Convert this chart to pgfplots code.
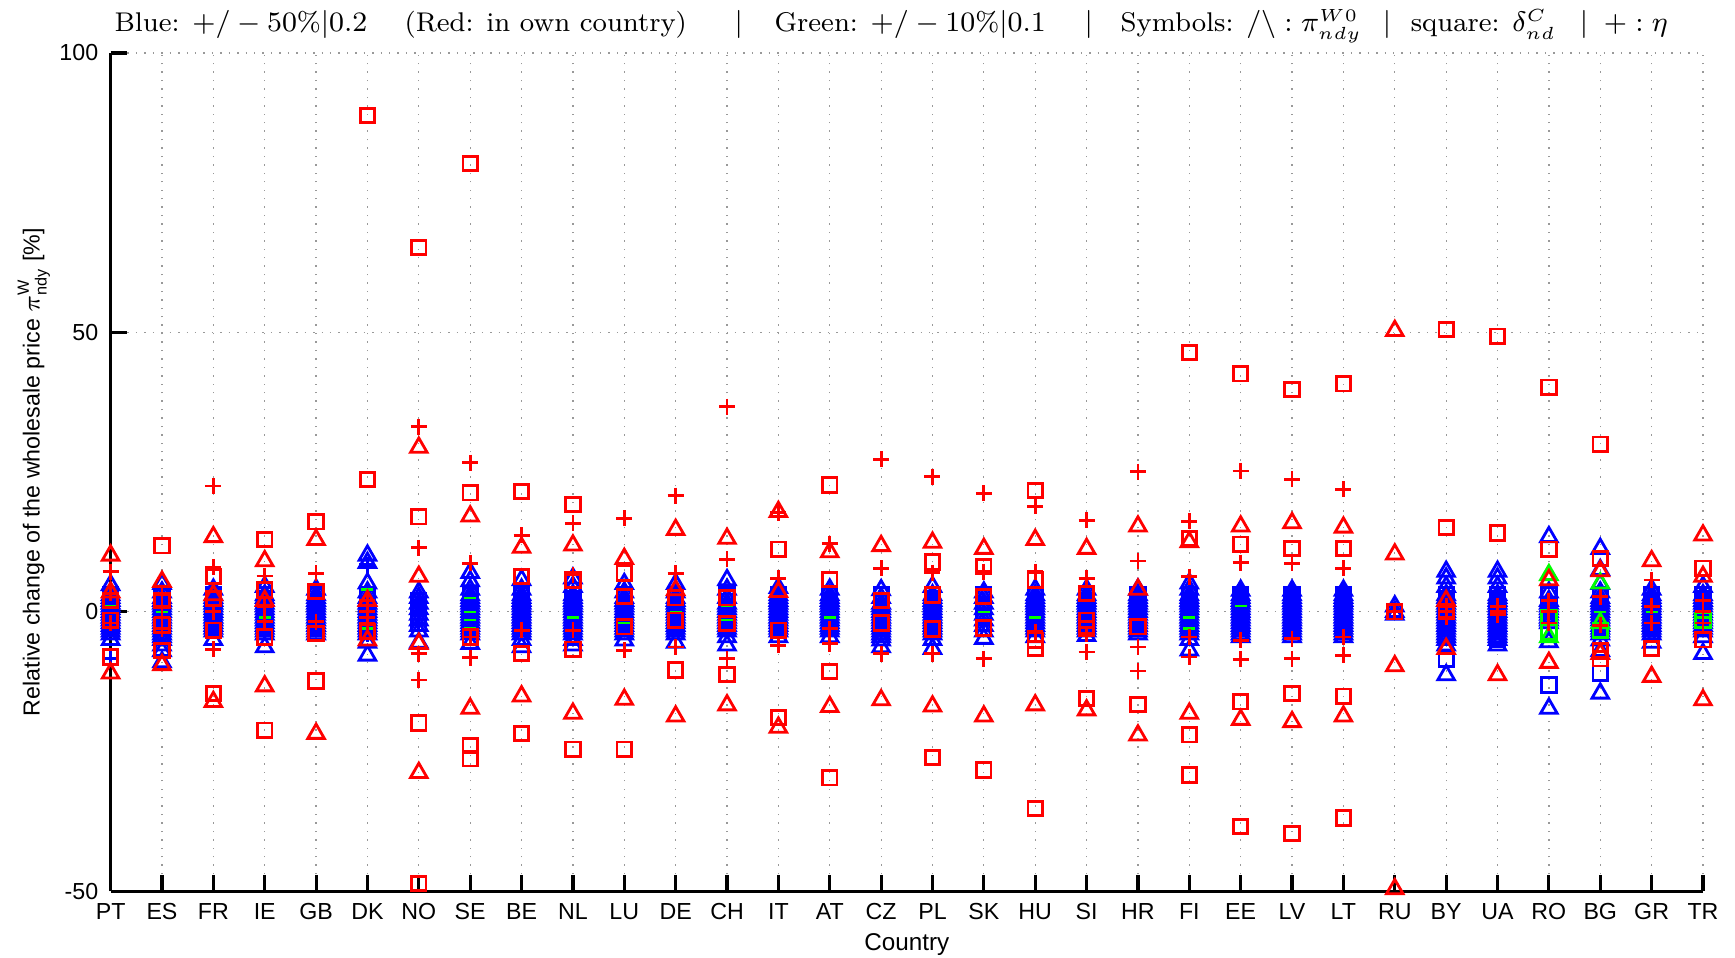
\documentclass[border=0pt]{standalone}
\usepackage{amsmath}
\usepackage{pgfplots}
\pgfplotsset{compat=1.18}
\usepackage{fontspec}
\newfontfamily\arial{Liberation Sans}
\definecolor{mred}{rgb}{1,0,0}
\definecolor{mblue}{rgb}{0,0,1}
\definecolor{mgreen}{rgb}{0,1,0}
\pgfplotsset{
  bt/.style={only marks, mark=triangle, mark size=0.95mm, mark options={line width=0.8pt}},
  bs/.style={only marks, mark=square, mark size=0.72mm, mark options={line width=0.8pt}},
  bp/.style={only marks, mark=+, mark size=0.8mm, mark options={line width=0.8pt}},
}
% title pieces at the positions of the original
\newcommand{\seg}[2]{\makebox[#1][l]{#2}}
\begin{document}
\begin{tikzpicture}
\begin{axis}[
  scale only axis, width=15.92cm, height=8.38cm,
  xmin=1, xmax=32, ymin=-50, ymax=100,
  xtick={1,...,32},
  xticklabels={PT,ES,FR,IE,GB,DK,NO,SE,BE,NL,LU,DE,CH,IT,AT,CZ,PL,SK,HU,SI,HR,FI,EE,LV,LT,RU,BY,UA,RO,BG,GR,TR},
  ytick={-50,0,50,100}, yticklabels={-50,0,50,100},
  axis lines*=left, axis line style={line width=0.9pt},
  xtick pos=left, ytick pos=left, tick align=inside,
  major tick length=1.6mm, tick style={black, line width=0.9pt},
  xmajorgrids, ymajorgrids, grid style={dotted, gray!80, line width=0.35pt},
  tick label style={font={\arial\fontsize{6.6pt}{8pt}\selectfont}},
  label style={font={\arial\fontsize{6.6pt}{8pt}\selectfont}},
  xlabel={Country},
  xlabel style={font={\arial\fontsize{6.9pt}{8pt}\selectfont}, at={(axis description cs:0.5,-0.0704)}, anchor=base, inner sep=0.5pt},
  ylabel={Relative change of the wholesale price $\pi^{\text{W}}_{\text{ndy}}$ [\%]},
  ylabel style={at={(axis description cs:-0.0446,0.5)}, anchor=base, inner sep=0.5pt},
  every axis title shift=0pt,
  title={\seg{29mm}{Blue: $+/-50\%|0.2$}\seg{33mm}{(Red: in own country)}\seg{4mm}{$|$}%
    \seg{31mm}{Green: $+/-10\%|0.1$}\seg{3.6mm}{$|$}%
    \seg{26.2mm}{Symbols: $/\backslash: \pi^{W0}_{ndy}$}\seg{2.8mm}{$|$}%
    \seg{16.9mm}{square: $\delta^{C}_{nd}$}\seg{2.4mm}{$|$}$+: \eta$},
  title style={font=\fontsize{7.7pt}{9pt}\selectfont, at={(axis description cs:0.0009,1.0254)},
    anchor=base west, yshift=0pt, inner sep=0.5pt},
  clip=false,
]
% blue: +/-50% | 0.2
\addplot[bt, mblue] coordinates {
(1,4.8)(1,3)(1,2)(1,1)(1,0)(1,-1)(1,-2)(1,-3)(1,-4)(1,-5)
(2,5)(2,3.5)(2,2)(2,1)(2,0)(2,-1)(2,-2)(2,-3)(2,-4)(2,-5)(2,-6)(2,-7)(2,-9)
(3,4)(3,3)(3,2)(3,1)(3,0)(3,-1)(3,-2)(3,-3)(3,-5)
(4,4.5)(4,3)(4,2)(4,1)(4,0)(4,-1)(4,-2)(4,-3)(4,-4)(4,-6.3)
(5,4)(5,3)(5,2)(5,1)(5,0)(5,-1)(5,-2)(5,-3)(5,-4)
(6,10.1)(6,8.8)(6,5.1)(6,3.5)(6,2)(6,1)(6,0)(6,-1)(6,-2)(6,-3)(6,-4)(6,-5.5)(6,-7.8)
(7,3.5)(7,2.5)(7,1.5)(7,0.5)(7,-0.5)(7,-1.5)(7,-2.5)(7,-3.5)(7,-5.5)
(8,7)(8,5.5)(8,4)(8,3)(8,2)(8,1)(8,0)(8,-1)(8,-2)(8,-3)(8,-4)(8,-5.7)
(9,5.7)(9,4)(9,3)(9,2)(9,1)(9,0)(9,-1)(9,-2)(9,-3)(9,-4)(9,-5)(9,-6.3)
(10,6)(10,4.5)(10,3)(10,2)(10,1)(10,0)(10,-1)(10,-2)(10,-3)(10,-4)(10,-5)(10,-6)
(11,5)(11,3.5)(11,2)(11,1)(11,0)(11,-1)(11,-2)(11,-3)(11,-4)(11,-5.1)
(12,5)(12,3.5)(12,2)(12,1)(12,0)(12,-1)(12,-2)(12,-3)(12,-4)(12,-5.5)
(13,5.7)(13,4)(13,2.5)(13,1)(13,0)(13,-1)(13,-2)(13,-3)(13,-4.5)(13,-6)
(14,4.3)(14,3)(14,2)(14,1)(14,0)(14,-1)(14,-2)(14,-3)(14,-4.5)
(15,4)(15,3)(15,2)(15,1)(15,0)(15,-1)(15,-2)(15,-3)(15,-4.5)
(16,3.9)(16,2.5)(16,1)(16,0)(16,-1)(16,-2)(16,-3)(16,-4)(16,-5.1)(16,-6.3)
(17,4.5)(17,3)(17,2)(17,1)(17,0)(17,-1)(17,-2)(17,-3)(17,-4)(17,-5)(17,-6.6)
(18,3.5)(18,2.5)(18,1.5)(18,0.5)(18,-0.5)(18,-1.5)(18,-2.5)(18,-3.5)(18,-4.8)
(19,4)(19,3)(19,2)(19,1)(19,0)(19,-1)(19,-2)(19,-3)(19,-4.5)
(20,4)(20,3)(20,2)(20,1)(20,0)(20,-1)(20,-2)(20,-3)(20,-4.3)
(21,4)(21,3)(21,2)(21,1)(21,0)(21,-1)(21,-2)(21,-3)(21,-4)
(22,5.1)(22,4)(22,3)(22,2)(22,1)(22,0)(22,-1)(22,-2)(22,-3)(22,-4)(22,-5)(22,-6.9)
(23,3.8)(23,2.5)(23,1.5)(23,0.5)(23,-0.5)(23,-1.5)(23,-2.5)(23,-3.5)(23,-4.5)
(24,3.8)(24,2.5)(24,1.5)(24,0.5)(24,-0.5)(24,-1.5)(24,-2.5)(24,-3.5)(24,-4.5)
(25,3.8)(25,2.5)(25,1.5)(25,0.5)(25,-0.5)(25,-1.5)(25,-2.5)(25,-3.5)(25,-4.5)
(26,1)(26,0)(26,-0.5)
(27,7.2)(27,6)(27,4.5)(27,3)(27,2)(27,1)(27,0)(27,-1)(27,-2)(27,-3)(27,-4)(27,-5)(27,-6)(27,-11.3)
(28,7.2)(28,6)(28,4.5)(28,3)(28,2)(28,1)(28,0)(28,-1)(28,-2)(28,-3)(28,-4)(28,-5)(28,-6)
(29,13.4)(29,3.5)(29,2)(29,1)(29,0)(29,-1)(29,-2)(29,-5.4)(29,-17.3)
(30,11.3)(30,7.5)(30,5)(30,3.5)(30,2)(30,1)(30,0)(30,-1)(30,-2)(30,-3)(30,-4)(30,-5.1)(30,-7)(30,-14.6)
(31,4)(31,3)(31,2)(31,1)(31,0)(31,-1)(31,-2)(31,-3)(31,-4)(31,-5.5)
(32,4.5)(32,3)(32,2)(32,1)(32,0)(32,-1)(32,-2)(32,-3)(32,-4.5)(32,-7.5)
};
% dense core of the blue columns
\addplot[bt, mblue] coordinates {
(1,2.5)(1,1.5)(1,0.5)(1,-0.5)(1,-1.5)(1,-2.5)(1,-3.5)
(2,2.5)(2,1.5)(2,0.5)(2,-0.5)(2,-1.5)(2,-2.5)(2,-3.5)(2,-4.5)
(3,2.5)(3,1.5)(3,0.5)(3,-0.5)(3,-1.5)(3,-2.5)(3,-3.5)
(4,2.5)(4,1.5)(4,0.5)(4,-0.5)(4,-1.5)(4,-2.5)(4,-3.5)
(5,2.5)(5,1.5)(5,0.5)(5,-0.5)(5,-1.5)(5,-2.5)(5,-3.5)
(6,2.5)(6,1.5)(6,0.5)(6,-0.5)(6,-1.5)(6,-2.5)(6,-3.5)
(8,2.5)(8,1.5)(8,0.5)(8,-0.5)(8,-1.5)(8,-2.5)(8,-3.5)
(9,2.5)(9,1.5)(9,0.5)(9,-0.5)(9,-1.5)(9,-2.5)(9,-3.5)
(10,2.5)(10,1.5)(10,0.5)(10,-0.5)(10,-1.5)(10,-2.5)(10,-3.5)
(11,2.5)(11,1.5)(11,0.5)(11,-0.5)(11,-1.5)(11,-2.5)(11,-3.5)
(12,2.5)(12,1.5)(12,0.5)(12,-0.5)(12,-1.5)(12,-2.5)(12,-3.5)
(13,1.5)(13,0.5)(13,-0.5)(13,-1.5)(13,-2.5)(13,-3.5)
(14,2.5)(14,1.5)(14,0.5)(14,-0.5)(14,-1.5)(14,-2.5)(14,-3.5)
(15,2.5)(15,1.5)(15,0.5)(15,-0.5)(15,-1.5)(15,-2.5)(15,-3.5)
(16,1.5)(16,0.5)(16,-0.5)(16,-1.5)(16,-2.5)(16,-3.5)(16,-4.5)
(17,2.5)(17,1.5)(17,0.5)(17,-0.5)(17,-1.5)(17,-2.5)(17,-3.5)
(19,2.5)(19,1.5)(19,0.5)(19,-0.5)(19,-1.5)(19,-2.5)(19,-3.5)
(20,2.5)(20,1.5)(20,0.5)(20,-0.5)(20,-1.5)(20,-2.5)(20,-3.5)
(21,2.5)(21,1.5)(21,0.5)(21,-0.5)(21,-1.5)(21,-2.5)(21,-3.5)
(22,2.5)(22,1.5)(22,0.5)(22,-0.5)(22,-1.5)(22,-2.5)(22,-3.5)
(23,3)(23,2)(23,1)(23,0)(23,-1)(23,-2)(23,-3)(23,-4)
(24,3)(24,2)(24,1)(24,0)(24,-1)(24,-2)(24,-3)(24,-4)
(25,3)(25,2)(25,1)(25,0)(25,-1)(25,-2)(25,-3)(25,-4)
(27,2.5)(27,1.5)(27,0.5)(27,-0.5)(27,-1.5)(27,-2.5)(27,-3.5)(27,-4.5)
(28,2.5)(28,1.5)(28,0.5)(28,-0.5)(28,-1.5)(28,-2.5)(28,-3.5)(28,-4.5)
(29,1.5)(29,0.5)(29,-0.5)(29,-1.5)
(30,2.5)(30,1.5)(30,0.5)(30,-0.5)(30,-1.5)(30,-2.5)(30,-3.5)
(31,2.5)(31,1.5)(31,0.5)(31,-0.5)(31,-1.5)(31,-2.5)(31,-3.5)
(32,2.5)(32,1.5)(32,0.5)(32,-0.5)(32,-1.5)(32,-2.5)(32,-3.5)
};
\addplot[bs, mblue] coordinates {
(1,3)(1,1)(1,-1)(1,-3)(2,3)(2,1)(2,-1)(2,-3)(3,3)(3,1)(3,-1)(3,-3)
(4,3)(4,1)(4,-1)(4,-3)(5,3)(5,1)(5,-1)(5,-3)(6,3)(6,1)(6,-1)(6,-3)
(7,2)(7,0)(7,-2)(8,3)(8,1)(8,-1)(8,-3)(9,3)(9,1)(9,-1)(9,-3)
(10,3)(10,1)(10,-1)(10,-3)(11,3)(11,1)(11,-1)(11,-3)(12,3)(12,1)(12,-1)(12,-3)
(13,3)(13,1)(13,-1)(13,-3)(14,3)(14,1)(14,-1)(14,-3)(15,3)(15,1)(15,-1)(15,-3)
(16,3)(16,1)(16,-1)(16,-3)(17,3)(17,1)(17,-1)(17,-3)(18,3)(18,1)(18,-1)(18,-3)
(19,3)(19,1)(19,-1)(19,-3)(20,3)(20,1)(20,-1)(20,-3)(21,3)(21,1)(21,-1)(21,-3)
(22,3)(22,1)(22,-1)(22,-3)(23,3)(23,1)(23,-1)(23,-3)(24,3)(24,1)(24,-1)(24,-3)
(25,3)(25,1)(25,-1)(25,-3)(26,0)(27,3)(27,1)(27,-1)(27,-3)(27,-8.5)
(28,3)(28,1)(28,-1)(28,-3)(28,-5)(29,3)(29,1)(29,-1)(29,-13.1)
(30,3)(30,1)(30,-1)(30,-3)(30,-11)(31,3)(31,1)(31,-1)(31,-3)(32,3)(32,1)(32,-1)(32,-3)
};
\addplot[bp, mblue] coordinates {
(1,2)(1,0)(1,-2)(1,-8.4)(2,2)(2,0)(2,-2)(3,2)(3,0)(3,-2)(4,2)(4,0)(4,-2)
(5,2)(5,0)(5,-2)(6,8.4)(6,2)(6,0)(6,-2)(6,-4)(7,2)(7,0)(7,-2)(8,2)(8,0)(8,-2)
(9,2)(9,0)(9,-2)(10,2)(10,0)(10,-2)(11,2)(11,0)(11,-2)(12,2)(12,0)(12,-2)
(13,2)(13,0)(13,-2)(14,2)(14,0)(14,-2)(15,2)(15,0)(15,-2)(16,2)(16,0)(16,-2)
(17,2)(17,0)(17,-2)(18,2)(18,0)(18,-2)(19,2)(19,0)(19,-2)(20,2)(20,0)(20,-2)
(21,2)(21,0)(21,-2)(22,2)(22,0)(22,-2)(23,2)(23,0)(23,-2)(24,2)(24,0)(24,-2)
(25,2)(25,0)(25,-2)(27,2)(27,0)(27,-2)(28,2)(28,0)(28,-2)(29,2)(29,0)(29,-2)
(30,2)(30,0)(30,-2)(31,2)(31,0)(31,-2)(32,2)(32,0)(32,-2)
};
% green: +/-10% | 0.1
\addplot[only marks, mgreen, mark=-, mark size=0.6mm, mark options={line width=0.7pt}] coordinates {
(1,1)(2,0)(4,-1)(6,4)(6,2)(6,-1)(6,-3)(8,2.5)(8,0)(8,-1.5)(8,-3)(10,-1)(11,-2)
(12,0)(13,1)(13,-1.5)(15,-1)(18,0)(19,-1)(22,-1)(22,-3)(23,1)(27,1)(28,0)
(29,-2)(30,0)(31,0)(32,-1)
};
\addplot[bt, mgreen] coordinates {(29,6.6)(29,-4.5)(30,5.1)(30,-2)};
\addplot[bs, mgreen] coordinates {(29,-3.6)(29,-1)(30,-3.3)(32,-1.5)};
% red: in own country
\addplot[bt, mred] coordinates {
(1,10.1)(1,-11)(1,3.5)(2,5.4)(2,-9.5)(3,13.4)(3,-16.1)(3,3)(4,9.1)(4,-13.3)(4,2)
(5,12.9)(5,-21.8)(6,-5.1)(6,2)(7,29.4)(7,6.3)(7,-5.7)(7,-28.8)(8,17.1)(8,-17.3)
(9,11.5)(9,-15.1)(10,11.9)(10,-18.2)(11,9.5)(11,-15.7)(12,14.7)(12,3.9)(12,-18.7)
(13,13.1)(13,-16.7)(14,17.9)(14,3.6)(14,-20.7)(15,10.7)(15,-17)(16,11.8)(16,-15.8)
(17,12.4)(17,-16.9)(18,11.3)(18,-18.7)(19,12.9)(19,-16.7)(20,11.3)(20,-17.6)
(21,15.3)(21,4)(21,-22.1)(22,12.5)(22,-18.2)(23,15.3)(23,-19.3)(24,15.9)(24,-19.7)
(25,15.1)(25,-18.7)(26,50.3)(26,10.3)(26,-9.7)(26,-49.6)(27,-6.6)(27,2)(28,-11.3)
(29,5.7)(29,-9.1)(30,7.3)(30,-7.5)(31,9.1)(31,-11.6)(32,13.7)(32,6.3)(32,-15.8)
};
\addplot[bs, mred] coordinates {
(1,2)(1,-8.1)(1,-1.5)(2,11.8)(2,-2.4)(2,-6.9)(2,2)(3,6.3)(3,2.4)(3,-3.3)(3,-14.6)
(4,12.9)(4,3.9)(4,-4.5)(4,-21.2)(5,16.1)(5,3.6)(5,-3.9)(5,-12.4)(6,88.8)(6,23.7)(6,-3.5)
(7,65.2)(7,17)(7,-19.9)(7,-48.6)(8,80.2)(8,21.3)(8,-4.5)(8,-23.9)(8,-26.3)
(9,21.5)(9,6.3)(9,-7.5)(9,-21.8)(10,19.2)(10,5.7)(10,-6.7)(10,-24.6)
(11,6.9)(11,2.7)(11,-2.7)(11,-24.6)(12,2.5)(12,-1.5)(12,-10.4)(13,2.5)(13,-2.1)(13,-11.2)
(14,11.2)(14,-3.3)(14,-18.9)(15,22.7)(15,5.8)(15,-10.7)(15,-29.7)(16,-2)(16,2)
(17,8.9)(17,3)(17,-3.1)(17,-26.1)(18,8.1)(18,2.7)(18,-2.9)(18,-28.3)
(19,21.7)(19,5.7)(19,-5.1)(19,-6.6)(19,-35.2)(20,3.3)(20,-1.5)(20,-3)(20,-15.5)
(21,-2.7)(21,-16.6)(22,46.4)(22,13.1)(22,-22)(22,-29.2)(23,42.6)(23,12.1)(23,-16.1)(23,-38.4)
(24,39.8)(24,11.3)(24,-14.6)(24,-39.7)(25,40.8)(25,11.3)(25,-15.1)(25,-36.9)
(26,0)(27,50.5)(27,15.1)(27,0)(28,49.3)(28,14.1)(29,40.2)(29,11.2)
(30,30)(30,9.5)(30,-6.9)(30,-8.4)(31,-6.6)(32,7.8)(32,-5)
};
\addplot[bp, mred] coordinates {
(1,7.2)(1,3.3)(1,-2)(2,3)(2,1)(2,-1)(2,-3)(3,22.5)(3,8)(3,-6.7)(3,0)(4,6.4)(4,-1.8)(4,1)
(5,6.9)(5,-1.8)(6,2)(6,0)(6,-2)(6,-1)(7,33.1)(7,11.5)(7,-7.5)(7,-12.2)
(8,26.7)(8,8.7)(8,-4.5)(8,-8.2)(9,13.7)(9,-3.3)(10,15.8)(10,6.6)(10,-3.3)
(11,16.7)(11,-6.9)(12,20.8)(12,6.9)(12,-6.3)(13,36.7)(13,9.4)(13,-8.4)
(14,17.7)(14,6)(14,-6)(15,12.2)(15,-3)(15,-5.7)(16,27.3)(16,7.8)(16,-7.5)
(17,24.2)(17,7)(17,-7.5)(18,21.2)(18,7.2)(18,-8.4)(19,18.9)(19,7.2)(19,-3.6)
(20,16.4)(20,6)(20,-3.9)(20,-7.2)(21,25.1)(21,9.1)(21,-6.3)(21,-10.6)
(22,16.2)(22,6.3)(22,-4.5)(22,-8.1)(23,25.2)(23,8.8)(23,-5.1)(23,-8.5)
(24,23.7)(24,8.7)(24,-4.8)(24,-8.4)(25,21.9)(25,7.8)(25,-4.5)(25,-7.8)
(26,0)(27,1)(27,0)(27,-1)(28,1)(28,0)(28,-0.5)(29,2)(29,0)(29,-2)
(30,2.7)(30,-2.4)(31,5.7)(31,1)(31,-2)(32,2)(32,0)(32,-2)
};
% page frame of the original figure
\path (rel axis cs:0,0) ++(-11.06mm,-6.6mm) coordinate (pageBL);
\path (rel axis cs:1,1) ++(3.2mm,5.3mm) coordinate (pageTR);
\end{axis}
\pgfresetboundingbox
\path (pageBL) rectangle (pageTR);
\end{tikzpicture}
\end{document}
